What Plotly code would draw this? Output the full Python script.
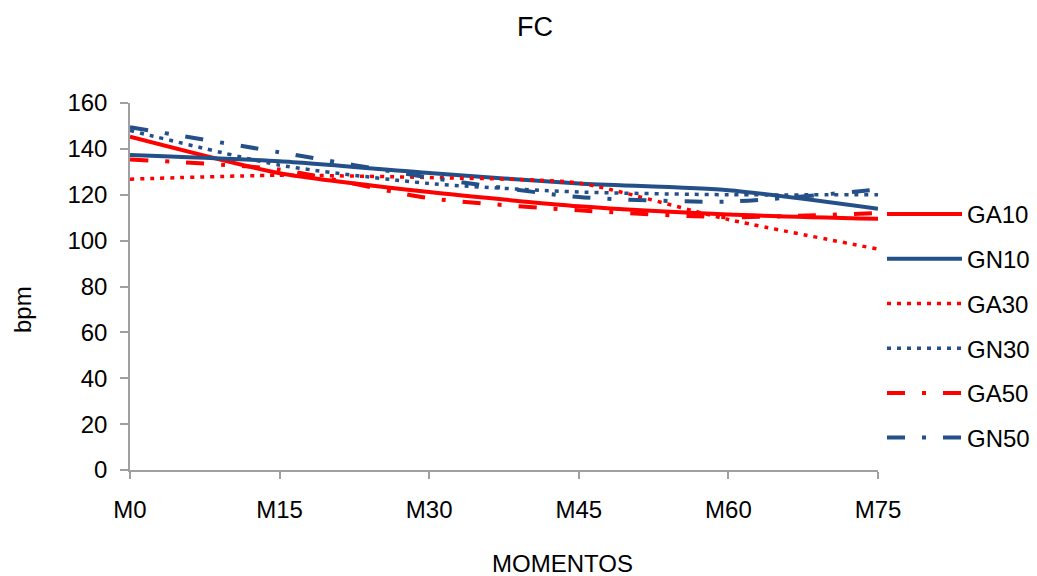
import plotly.graph_objects as go

categories = ["M0", "M15", "M30", "M45", "M60", "M75"]
GA10 = [145.3, 129.4, 121.2, 115.0, 111.4, 109.5]
GN10 = [137.3, 134.6, 129.5, 124.9, 122.0, 113.9]
GA30 = [126.8, 128.5, 127.5, 125.1, 109.2, 96.3]
GN30 = [148.0, 132.9, 124.9, 121.2, 120.0, 120.0]
GA50 = [135.4, 131.0, 118.5, 113.2, 110.2, 112.0]
GN50 = [149.4, 138.5, 127.5, 119.0, 117.0, 122.3]

RED = "#FF0000"
BLUE = "#24508A"
DOT = "4px,6px"
DASHDOT = "18px,17px,4px,17px"
series = [
    ("GA10", GA10, RED, "solid", 4),
    ("GN10", GN10, BLUE, "solid", 4),
    ("GA30", GA30, RED, DOT, 3.5),
    ("GN30", GN30, BLUE, DOT, 3.5),
    ("GA50", GA50, RED, DASHDOT, 4),
    ("GN50", GN50, BLUE, DASHDOT, 4),
]

fig = go.Figure()
for i, (name, vals, color, dash, w) in enumerate(series):
    fig.add_trace(go.Scatter(
        x=categories, y=vals, name=name, mode="lines",
        line=dict(color=color, dash=dash, width=w, shape="spline", smoothing=0.6),
        legendgroup=f"g{i}",
    ))

FONT = "Liberation Sans, Arial, sans-serif"
L, R, T, B = 130, 878, 103, 470
PW, PH = R - L, B - T


def px_x(x):
    return (x - L) / PW


def px_y(y):
    return (B - y) / PH


fig.update_layout(
    width=1037, height=576,
    margin=dict(l=L, r=1037 - R, t=T, b=576 - B, autoexpand=False),
    paper_bgcolor="white", plot_bgcolor="white",
    font=dict(family=FONT, size=24, color="black"),
    showlegend=True,
    legend=dict(x=px_x(882), xanchor="left", y=px_y(192), yanchor="top",
                font=dict(size=24), tracegroupgap=10.5, itemwidth=75,
                bgcolor="rgba(0,0,0,0)"),
    annotations=[
        dict(text="FC", x=px_x(535), y=px_y(27), xref="paper", yref="paper",
             showarrow=False, yanchor="middle", font=dict(size=27)),
        dict(text="bpm", x=px_x(22), y=px_y(310), xref="paper", yref="paper",
             showarrow=False, textangle=-90, xanchor="center", yanchor="middle",
             font=dict(size=24)),
        dict(text="MOMENTOS", x=px_x(562), y=px_y(563), xref="paper", yref="paper",
             showarrow=False, yanchor="middle", font=dict(size=24)),
    ],
)

fig.update_xaxes(
    type="category", range=[0, 5], showgrid=False, zeroline=False,
    showline=True, linecolor="#A0A0A0", linewidth=1.5,
    ticks="outside", ticklen=7, tickcolor="#A0A0A0", tickwidth=1.5,
    ticklabelstandoff=10,
)
fig.update_yaxes(
    range=[0, 160], dtick=20, showgrid=False, zeroline=False,
    showline=True, linecolor="#A0A0A0", linewidth=1.5,
    ticks="outside", ticklen=8, tickcolor="#A0A0A0", tickwidth=1.5,
    ticklabelstandoff=8,
)

fig.write_html("out.html")
